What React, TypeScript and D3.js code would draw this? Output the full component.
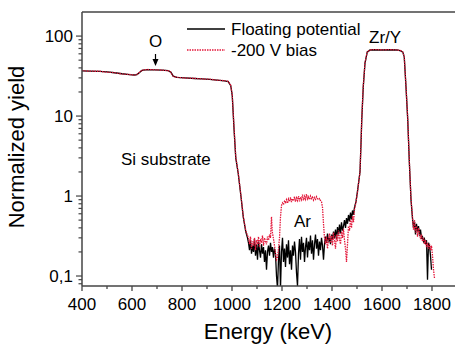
import React, { useRef, useEffect } from "react";
import * as d3 from "d3";

// floating potential spectrum (energy in keV, normalized yield)
const floatE = [
  400, 430, 470, 500, 530, 560, 590, 610, 620, 630, 640, 660, 690, 720, 745, 755, 765, 780, 810, 850,
  880, 910, 940, 970, 985, 995, 1001, 1008, 1015, 1025, 1036, 1045, 1055, 1062,
  1066, 1070, 1074, 1078, 1082, 1086, 1090, 1094, 1098, 1102, 1106, 1110, 1114, 1118, 1122, 1126,
  1130, 1134, 1138, 1142, 1146, 1150, 1154, 1158, 1162, 1166, 1170, 1174, 1178, 1182, 1186, 1190,
  1194, 1198, 1202, 1206, 1210, 1214, 1218, 1222, 1226, 1230, 1234, 1238, 1242, 1246, 1250, 1254,
  1258, 1262, 1266, 1270, 1274, 1278, 1282, 1286, 1290, 1294, 1298, 1302, 1306, 1310, 1314, 1318,
  1322, 1326, 1330, 1334, 1338, 1342, 1346, 1350, 1354, 1358, 1362, 1366, 1370, 1374, 1378, 1382,
  1386, 1390, 1394, 1398, 1402, 1406, 1410, 1414, 1418, 1422, 1426, 1430, 1434, 1438, 1442, 1446,
  1450, 1454, 1458, 1462, 1466, 1470, 1474, 1478, 1482, 1486, 1490, 1496, 1502, 1508, 1512, 1516,
  1519, 1525, 1532, 1541, 1552, 1570, 1600, 1630, 1660, 1675, 1683, 1689, 1696, 1703, 1709, 1716,
  1722, 1726, 1730, 1734, 1738, 1742, 1746, 1750, 1754, 1758, 1762, 1766, 1770, 1774, 1778, 1782,
  1786, 1790, 1794, 1798,
];
const floatY = [
  36.8, 36.5, 36.2, 35.6, 34.8, 33.8, 33.0, 32.6, 33.0, 35.0, 37.2, 38.0, 37.8, 37.5, 37.0, 35.5, 31.5, 30.4, 30.0, 29.5,
  29.2, 28.8, 28.2, 27.6, 27.0, 24.0, 18.0, 7.0, 3.0, 1.9, 0.98, 0.55, 0.36, 0.3,
  0.26, 0.21, 0.28, 0.19, 0.24, 0.2, 0.29, 0.18, 0.25, 0.16, 0.27, 0.21, 0.17, 0.25, 0.19, 0.23,
  0.15, 0.21, 0.12, 0.2, 0.24, 0.18, 0.26, 0.2, 0.23, 0.17, 0.22, 0.19, 0.1, 0.07, 0.16, 0.24,
  0.07, 0.2, 0.3, 0.15, 0.22, 0.13, 0.25, 0.17, 0.28, 0.14, 0.21, 0.12, 0.24, 0.18, 0.27, 0.2,
  0.11, 0.075, 0.19, 0.29, 0.16, 0.31, 0.2, 0.26, 0.15, 0.23, 0.3, 0.17, 0.27, 0.21, 0.32, 0.19,
  0.28, 0.16, 0.25, 0.33, 0.22, 0.29, 0.18, 0.27, 0.21, 0.3, 0.24, 0.16, 0.25, 0.31, 0.26, 0.34,
  0.27, 0.3, 0.25, 0.33, 0.28, 0.36, 0.3, 0.38, 0.29, 0.41, 0.33, 0.44, 0.34, 0.47, 0.37, 0.42,
  0.5, 0.4, 0.53, 0.45, 0.58, 0.48, 0.62, 0.51, 0.66, 0.58, 0.72, 0.85, 1.15, 1.6, 2.0, 4.5,
  8.9, 23, 46, 63, 67, 67.5, 67, 67.5, 67, 65.5, 63, 55, 23, 8.9, 2.8, 0.9,
  0.52, 0.4, 0.48, 0.33, 0.45, 0.36, 0.42, 0.32, 0.38, 0.3, 0.31, 0.27, 0.29, 0.25, 0.28, 0.09,
  0.26, 0.24, 0.18, 0.12,
];

// -200 V bias spectrum
const biasE = [
  400, 430, 470, 500, 530, 560, 590, 610, 620, 630, 640, 660, 690, 720, 745, 755, 765, 780, 810, 850,
  880, 910, 940, 970, 985, 995, 1001, 1008, 1015, 1025, 1036, 1045, 1055, 1062,
  1066, 1070, 1074, 1078, 1082, 1086, 1090, 1094, 1098, 1102, 1106, 1110, 1114, 1118, 1122, 1126,
  1130, 1134, 1138, 1142, 1146, 1150, 1154, 1158, 1161, 1166, 1170, 1174, 1178, 1182, 1186, 1190,
  1194, 1198, 1202, 1206, 1210, 1214, 1218, 1222, 1226, 1230, 1234, 1238, 1242, 1246, 1250, 1254,
  1258, 1262, 1266, 1270, 1274, 1278, 1282, 1286, 1290, 1294, 1298, 1302, 1306, 1310, 1314, 1318,
  1322, 1326, 1330, 1334, 1338, 1342, 1346, 1350, 1354, 1358, 1362, 1366, 1370, 1374, 1378, 1382,
  1386, 1390, 1394, 1398, 1402, 1406, 1410, 1414, 1418, 1422, 1426, 1430, 1434, 1438, 1442, 1446,
  1450, 1454, 1458, 1462, 1466, 1470, 1474, 1478, 1482, 1486, 1490, 1496, 1502, 1508, 1512, 1516,
  1519, 1525, 1532, 1541, 1552, 1570, 1600, 1630, 1660, 1675, 1683, 1689, 1696, 1703, 1709, 1716,
  1722, 1726, 1730, 1734, 1738, 1742, 1746, 1750, 1754, 1758, 1762, 1766, 1770, 1774, 1778, 1782,
  1786, 1790, 1794, 1798, 1802, 1806, 1810,
];
const biasY = [
  37.0, 36.4, 36.3, 35.4, 34.9, 33.6, 33.1, 32.5, 33.2, 35.2, 37.5, 38.2, 37.9, 37.6, 36.9, 35.3, 31.3, 30.5, 29.9, 29.6,
  29.1, 28.9, 28.1, 27.7, 27.1, 24.2, 18.4, 7.3, 3.1, 1.95, 1.0, 0.56, 0.37, 0.32,
  0.3, 0.25, 0.31, 0.22, 0.27, 0.24, 0.3, 0.21, 0.28, 0.25, 0.31, 0.23, 0.29, 0.26, 0.32, 0.24,
  0.3, 0.27, 0.25, 0.31, 0.28, 0.33, 0.3, 0.55, 0.36, 0.29, 0.24, 0.19, 0.16, 0.17, 0.22, 0.3,
  0.55, 0.76, 0.82, 0.78, 0.86, 0.83, 0.9, 0.81, 0.92, 0.85, 0.96, 0.84, 0.93, 0.87, 0.98, 0.85,
  0.95, 0.88, 1.0, 0.86, 0.97, 0.9, 1.04, 0.88, 0.99, 0.91, 1.06, 0.92, 0.98, 0.9, 1.0, 0.93,
  0.97, 0.89, 0.96, 0.91, 0.98, 0.92, 0.9, 0.93, 0.88, 0.85, 0.72, 0.45, 0.3, 0.25, 0.31, 0.22,
  0.29, 0.34, 0.26, 0.32, 0.24, 0.35, 0.28, 0.22, 0.33, 0.27, 0.37, 0.29, 0.25, 0.36, 0.3, 0.39,
  0.28, 0.22, 0.15, 0.25, 0.42, 0.37, 0.5, 0.4, 0.56, 0.47, 0.68, 0.84, 1.12, 1.6, 2.0, 4.6,
  9.1, 23.5, 46.5, 63.5, 67.2, 67.8, 67.3, 67.6, 67.2, 65.8, 63.2, 55.5, 23.5, 9.2, 2.9, 0.92,
  0.55, 0.38, 0.5, 0.35, 0.42, 0.31, 0.4, 0.34, 0.29, 0.33, 0.27, 0.3, 0.25, 0.28, 0.23, 0.26,
  0.22, 0.25, 0.21, 0.24, 0.18, 0.12, 0.094,
];

const xTicks = [400, 600, 800, 1000, 1200, 1400, 1600, 1800];
const yTicks = [0.1, 1, 10, 100];
const yTickLabels = ["0,1", "1", "10", "100"];

const W = 455;
const H = 346;
const margin = { left: 82, top: 12, bottom: 60 };
const FONT = "'Liberation Sans', Arial, sans-serif";
const AXIS = "#444";
const RED = "#e3173a";

const App = () => {
  const svgRef = useRef(null);

  useEffect(() => {
    const svg = d3.select(svgRef.current);
    svg.selectAll("*").remove();

    const bottom = H - margin.bottom + 0; // 286
    const x = d3.scaleLinear().domain([400, 1900]).range([margin.left, margin.left + 375]);
    const y = d3.scaleLog().domain([0.075, 200]).range([bottom, margin.top]);

    svg
      .append("defs")
      .append("clipPath")
      .attr("id", "plot-clip")
      .append("rect")
      .attr("x", margin.left)
      .attr("y", margin.top)
      .attr("width", W - margin.left)
      .attr("height", bottom - margin.top);

    const line = d3
      .line()
      .x((d) => x(d[0]))
      .y((d) => y(Math.max(d[1], 0.06)));

    const plot = svg.append("g").attr("clip-path", "url(#plot-clip)");
    plot
      .append("path")
      .attr("d", line(floatE.map((e, i) => [e, floatY[i]])))
      .attr("fill", "none")
      .attr("stroke", "#000")
      .attr("stroke-width", 1.3);
    plot
      .append("path")
      .attr("d", line(biasE.map((e, i) => [e, biasY[i]])))
      .attr("fill", "none")
      .attr("stroke", RED)
      .attr("stroke-width", 1.3)
      .attr("stroke-dasharray", "1.5,1");

    // x axis
    const xAxis = svg.append("g").attr("transform", `translate(0, ${bottom})`);
    xAxis
      .append("line")
      .attr("x1", margin.left)
      .attr("x2", W)
      .attr("y1", 0)
      .attr("y2", 0)
      .attr("stroke", AXIS)
      .attr("stroke-width", 1.5);
    d3.range(400, 1901, 100).forEach((v) => {
      const major = v % 200 === 0;
      xAxis
        .append("line")
        .attr("x1", x(v))
        .attr("x2", x(v))
        .attr("y1", 0)
        .attr("y2", major ? 5 : 3)
        .attr("stroke", AXIS)
        .attr("stroke-width", 1.3);
    });
    xAxis
      .selectAll("text")
      .data(xTicks)
      .enter()
      .append("text")
      .attr("x", (d) => x(d))
      .attr("y", 24)
      .attr("text-anchor", "middle")
      .attr("font-family", FONT)
      .attr("font-size", 17)
      .text((d) => d);

    // top border
    svg
      .append("line")
      .attr("x1", margin.left)
      .attr("x2", W)
      .attr("y1", margin.top)
      .attr("y2", margin.top)
      .attr("stroke", AXIS)
      .attr("stroke-width", 1.5);

    // y axis
    const yAxis = svg.append("g").attr("transform", `translate(${margin.left}, 0)`);
    yAxis
      .append("line")
      .attr("x1", 0)
      .attr("x2", 0)
      .attr("y1", margin.top)
      .attr("y2", bottom)
      .attr("stroke", AXIS)
      .attr("stroke-width", 1.5);
    y.ticks()
      .filter((v) => v >= 0.075 && v < 200)
      .forEach((v) => {
        const major = yTicks.some((t) => Math.abs(t - v) / t < 1e-6);
        yAxis
          .append("line")
          .attr("x1", major ? -6 : -3.5)
          .attr("x2", 0)
          .attr("y1", y(v))
          .attr("y2", y(v))
          .attr("stroke", AXIS)
          .attr("stroke-width", 1.2);
      });
    yAxis
      .selectAll("text")
      .data(yTicks)
      .enter()
      .append("text")
      .attr("x", -9)
      .attr("y", (d) => y(d))
      .attr("dy", "0.35em")
      .attr("text-anchor", "end")
      .attr("font-family", FONT)
      .attr("font-size", 17)
      .text((d, i) => yTickLabels[i]);

    // axis titles
    svg
      .append("text")
      .attr("x", 268)
      .attr("y", 339)
      .attr("text-anchor", "middle")
      .attr("font-family", FONT)
      .attr("font-size", 22)
      .text("Energy (keV)");
    svg
      .append("text")
      .attr("transform", `translate(24, 147) rotate(-90)`)
      .attr("text-anchor", "middle")
      .attr("font-family", FONT)
      .attr("font-size", 22)
      .text("Normalized yield");

    // legend
    const legend = svg.append("g");
    legend
      .append("line")
      .attr("x1", 187)
      .attr("x2", 225)
      .attr("y1", 29)
      .attr("y2", 29)
      .attr("stroke", "#000")
      .attr("stroke-width", 1.3);
    legend
      .append("line")
      .attr("x1", 187)
      .attr("x2", 225)
      .attr("y1", 50)
      .attr("y2", 50)
      .attr("stroke", RED)
      .attr("stroke-width", 1.3)
      .attr("stroke-dasharray", "1.5,1");
    legend
      .append("text")
      .attr("x", 231)
      .attr("y", 35)
      .attr("font-family", FONT)
      .attr("font-size", 17)
      .text("Floating potential");
    legend
      .append("text")
      .attr("x", 231)
      .attr("y", 56)
      .attr("font-family", FONT)
      .attr("font-size", 17)
      .text("-200 V bias");

    // annotations
    const note = (tx, ty, t) =>
      svg
        .append("text")
        .attr("x", tx)
        .attr("y", ty)
        .attr("font-family", FONT)
        .attr("font-size", 17)
        .text(t);
    note(369, 43, "Zr/Y");
    note(121, 165, "Si substrate");
    note(294, 227, "Ar");
    note(155.5, 47, "O").attr("text-anchor", "middle");

    svg
      .append("line")
      .attr("x1", 155.5)
      .attr("x2", 155.5)
      .attr("y1", 54)
      .attr("y2", 61)
      .attr("stroke", "#000")
      .attr("stroke-width", 1.2);
    svg
      .append("path")
      .attr("d", "M152.5,59 L158.5,59 L155.5,66 Z")
      .attr("fill", "#000");
  }, []);

  return (
    <svg
      ref={svgRef}
      width={W}
      height={H}
      style={{ position: "absolute", left: 0, top: 0, background: "#fff" }}
    ></svg>
  );
};

export default App;
